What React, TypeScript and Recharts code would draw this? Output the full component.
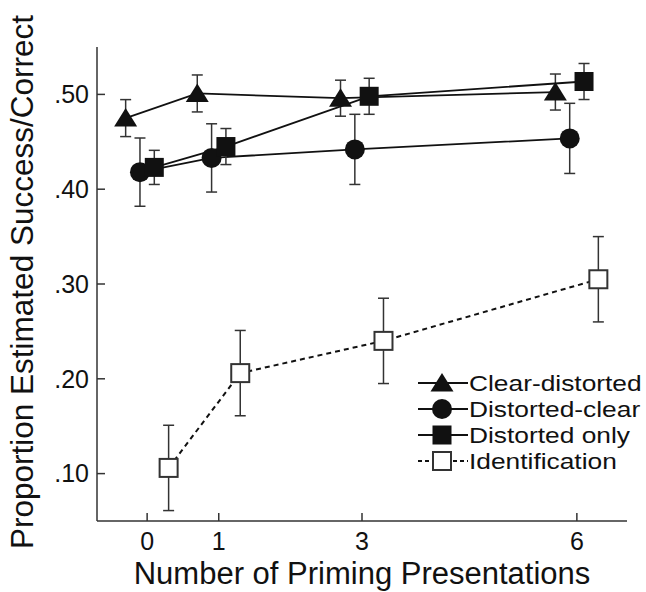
import React from 'react';
import { ComposedChart, Line, XAxis, YAxis, ErrorBar, Legend } from 'recharts';

// ---- data ----
const PRESENTATIONS = [0, 1, 3, 6];
const X_TICKS = [0, 1, 3, 6];
const Y_TICKS = [0.1, 0.2, 0.3, 0.4, 0.5];

const CLEAR_DISTORTED = [0.475, 0.501, 0.496, 0.5025];
const CLEAR_DISTORTED_ERR = [0.0195, 0.0195, 0.019, 0.019];
const DISTORTED_CLEAR = [0.418, 0.433, 0.442, 0.4536];
const DISTORTED_CLEAR_ERR = [0.036, 0.036, 0.037, 0.037];
const DISTORTED_ONLY = [0.423, 0.445, 0.498, 0.5136];
const DISTORTED_ONLY_ERR = [0.018, 0.019, 0.019, 0.019];
const IDENTIFICATION = [0.106, 0.206, 0.24, 0.305];
const IDENTIFICATION_ERR = [0.045, 0.045, 0.045, 0.045];

const SERIES_NAMES = ['Clear-distorted', 'Distorted-clear', 'Distorted only', 'Identification'];

// ---- presentation ----
const FONT = '"Liberation Sans", Arial, Helvetica, sans-serif';
const INK = '#111';
const AXIS = '#333';
const DODGE = [-0.3, -0.1, 0.1, 0.3];
const KINDS = ['triangle', 'circle', 'square', 'open'];

const buildRows = (vals: number[], errs: number[], dodge: number) =>
  PRESENTATIONS.map((p, i) => ({ x: p + dodge, y: vals[i], err: errs[i] }));

const SERIES = [
  { name: SERIES_NAMES[0], kind: KINDS[0], data: buildRows(CLEAR_DISTORTED, CLEAR_DISTORTED_ERR, DODGE[0]), dashed: false },
  { name: SERIES_NAMES[1], kind: KINDS[1], data: buildRows(DISTORTED_CLEAR, DISTORTED_CLEAR_ERR, DODGE[1]), dashed: false },
  { name: SERIES_NAMES[2], kind: KINDS[2], data: buildRows(DISTORTED_ONLY, DISTORTED_ONLY_ERR, DODGE[2]), dashed: false },
  { name: SERIES_NAMES[3], kind: KINDS[3], data: buildRows(IDENTIFICATION, IDENTIFICATION_ERR, DODGE[3]), dashed: true },
];

function MarkerShape({ kind, cx, cy }: { kind: string; cx: number; cy: number }) {
  if (cx == null || cy == null) return null;
  switch (kind) {
    case 'triangle':
      return <polygon points={`${cx},${cy - 10} ${cx + 11.5},${cy + 8.5} ${cx - 11.5},${cy + 8.5}`} fill={INK} />;
    case 'circle':
      return <circle cx={cx} cy={cy} r={10} fill={INK} />;
    case 'square':
      return <rect x={cx - 9.5} y={cy - 9.5} width={19} height={19} fill={INK} />;
    default:
      return <rect x={cx - 9} y={cy - 9} width={18} height={18} fill="#fff" stroke={AXIS} strokeWidth={2} />;
  }
}

const XTitle = (props: any) => {
  const vb = props.viewBox || { x: 97, y: 521, width: 530, height: 71 };
  return (
    <text x={vb.x + vb.width / 2} y={vb.y + 63} textAnchor="middle" fontSize={31} fontFamily={FONT} fill={INK}>
      Number of Priming Presentations
    </text>
  );
};

const YTitle = (props: any) => {
  const vb = props.viewBox || { x: 0, y: 47, width: 97, height: 474 };
  const cx = vb.x + 33;
  const cy = vb.y + vb.height / 2 - 2;
  return (
    <text x={cx} y={cy} transform={`rotate(-90 ${cx} ${cy})`} textAnchor="middle" fontSize={31.5} fontFamily={FONT} fill={INK}>
      Proportion Estimated Success/Correct
    </text>
  );
};

const LegendContent = () => (
  <div style={{ fontFamily: FONT, fontSize: 22.5, color: INK }}>
    {SERIES.map((s) => (
      <div key={s.name} style={{ display: 'flex', alignItems: 'center', height: 26 }}>
        <svg width={50} height={26} style={{ display: 'block', flex: 'none' }}>
          <line x1={0} x2={50} y1={13} y2={13} stroke={INK} strokeWidth={1.8} strokeDasharray={s.dashed ? '4 3' : undefined} />
          <MarkerShape kind={s.kind} cx={24} cy={13} />
        </svg>
        <span
          style={{
            display: 'inline-block',
            marginLeft: 1,
            lineHeight: '25px',
            whiteSpace: 'nowrap',
            transform: 'scaleX(1.17)',
            transformOrigin: 'left center',
          }}
        >
          {s.name}
        </span>
      </div>
    ))}
  </div>
);

const fmt = (v: number) => v.toFixed(2).replace(/^0/, '');

export default function App() {
  return (
    <div style={{ position: 'absolute', left: 0, top: 0, width: 646, height: 592, background: '#fff' }}>
      <ComposedChart width={646} height={592} margin={{ top: 47, right: 19, bottom: 0, left: 0 }}>
        <XAxis
          type="number"
          dataKey="x"
          domain={[-0.7, 6.7]}
          ticks={X_TICKS}
          interval={0}
          allowDataOverflow
          height={71}
          tickSize={-8}
          tickMargin={19}
          axisLine={{ stroke: AXIS, strokeWidth: 1.5 }}
          tickLine={{ stroke: AXIS, strokeWidth: 1.5 }}
          tick={{ fontSize: 25, fill: INK, fontFamily: FONT }}
          label={XTitle}
        />
        <YAxis
          type="number"
          dataKey="y"
          domain={[0.05, 0.55]}
          ticks={Y_TICKS}
          interval={0}
          allowDataOverflow
          width={97}
          tickSize={-8}
          tickMargin={16}
          tickFormatter={fmt}
          axisLine={{ stroke: AXIS, strokeWidth: 1.5 }}
          tickLine={{ stroke: AXIS, strokeWidth: 1.5 }}
          tick={{ fontSize: 25, fill: INK, fontFamily: FONT }}
          label={YTitle}
        />
        {SERIES.map((s) => (
          <Line
            key={s.name}
            name={s.name}
            data={s.data}
            dataKey="y"
            type="linear"
            stroke={INK}
            strokeWidth={s.dashed ? 2 : 1.8}
            strokeDasharray={s.dashed ? '5 4' : undefined}
            isAnimationActive={false}
            activeDot={false}
            dot={(p: any) => <MarkerShape key={`${s.name}-${p.index}`} kind={s.kind} cx={p.cx} cy={p.cy} />}
          >
            <ErrorBar dataKey="err" direction="y" width={5.5} stroke={AXIS} strokeWidth={1.5} isAnimationActive={false} />
          </Line>
        ))}
        <Legend
          layout="vertical"
          align="center"
          verticalAlign="middle"
          content={LegendContent}
          wrapperStyle={{ left: 418, top: 370, width: 228, height: 110 }}
        />
      </ComposedChart>
    </div>
  );
}
